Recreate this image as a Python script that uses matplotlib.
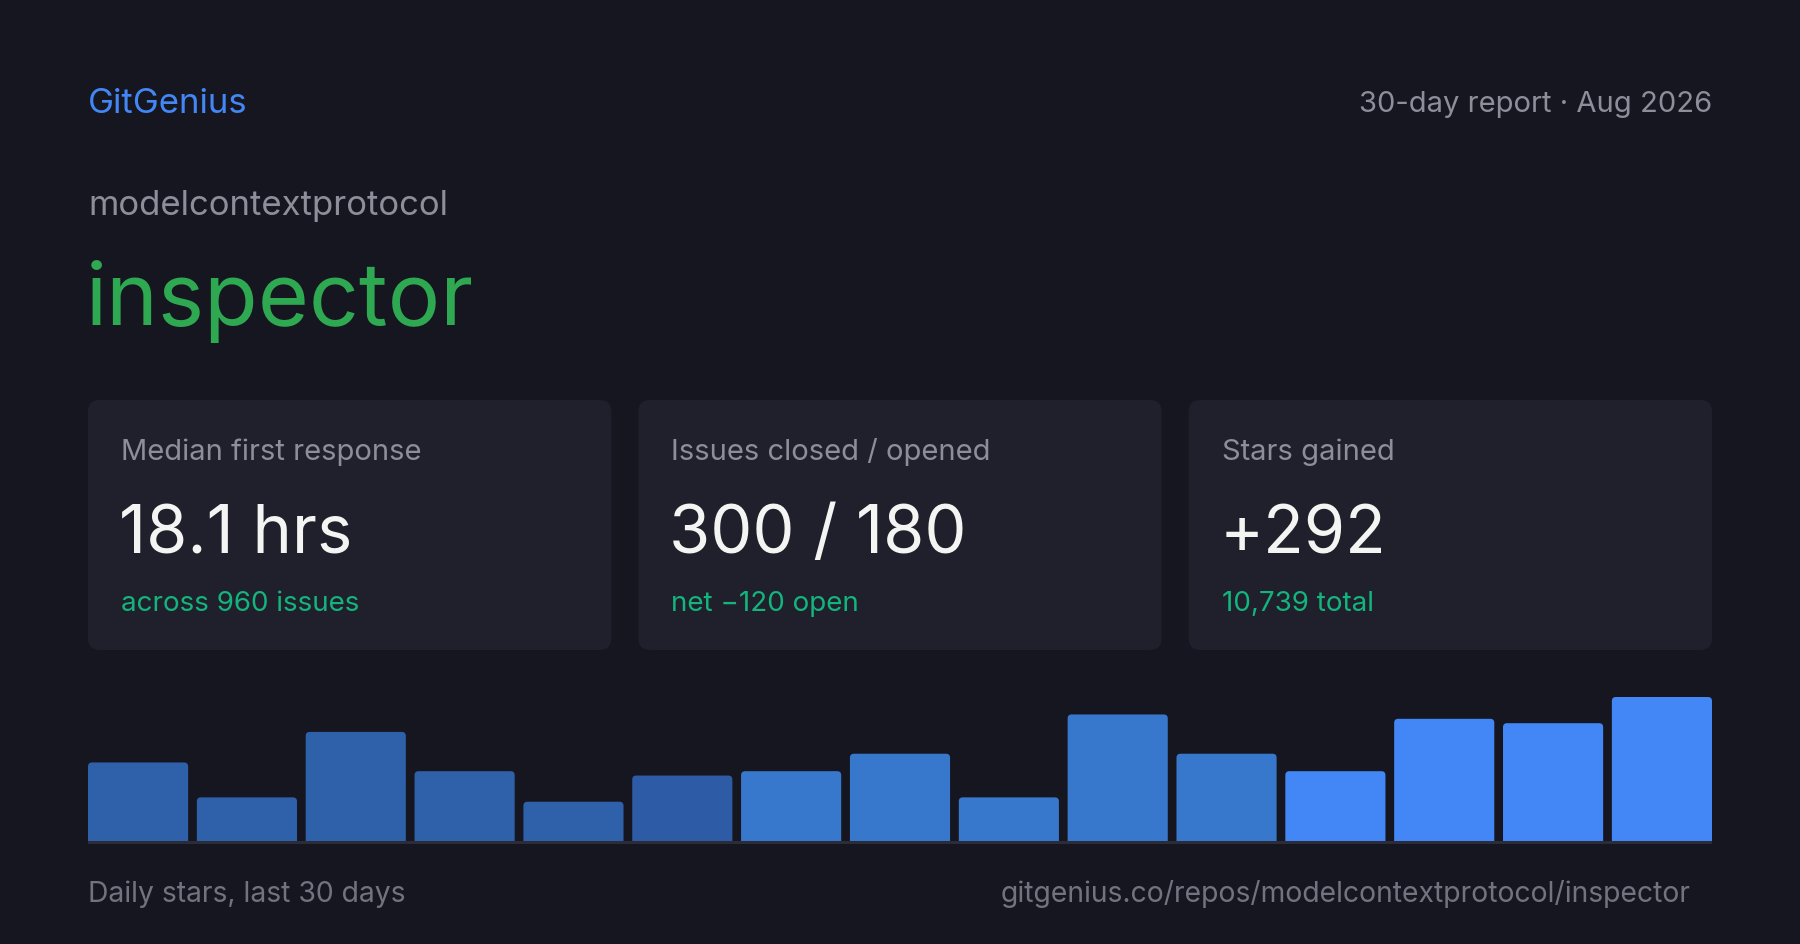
import matplotlib
matplotlib.use("Agg")
import matplotlib.pyplot as plt
from matplotlib.patches import FancyBboxPatch, Rectangle

plt.rcParams["font.family"] = ["Inter", "DejaVu Sans"]

W, H = 1800, 945
BG = "#15161f"
CARD = "#1f202c"
MUTED = "#8d8e9a"
DIM = "#72737f"
GREEN = "#2fa852"
TEAL = "#14b47c"
BLUE = "#4287f5"

BRAND = "GitGenius"
PERIOD = "30-day report \u00b7 Aug 2026"
OWNER = "modelcontextprotocol"
REPO = "inspector"

CARD_LABELS = ["Median first response", "Issues closed / opened", "Stars gained"]
CARD_VALUES = ["18.1 hrs", "300 / 180", "+292"]
CARD_NOTES = ["across 960 issues", "net \u2212120 open", "10,739 total"]

# stars per 2-day bucket
STARS = [18, 10, 25, 16, 9, 15, 16, 20, 10, 29, 20, 16, 28, 27, 33]
BAR_COLORS = ["#2f60aa"] * 5 + ["#2d5ba6"] + ["#3878cc"] * 5 + ["#4287f5"] * 4

FOOT_LEFT = "Daily stars, last 30 days"
FOOT_RIGHT = "gitgenius.co/repos/modelcontextprotocol/inspector"

fig = plt.figure(figsize=(W / 100, H / 100), dpi=100, facecolor=BG)

# overlay axes in pixel coordinates (y down)
ov = fig.add_axes([0, 0, 1, 1])
ov.set_xlim(0, W)
ov.set_ylim(H, 0)
ov.axis("off")

L, R = 88, 1712

ov.text(L, 113, BRAND, color=BLUE, fontsize=25, va="baseline", ha="left")
ov.text(R, 112, PERIOD, color=MUTED, fontsize=21, va="baseline", ha="right")
ov.text(L, 215, OWNER, color=MUTED, fontsize=25, va="baseline", ha="left")
ov.text(L - 2, 325, REPO, color=GREEN, fontsize=63, va="baseline", ha="left")

# stat cards
gap = 27
cw = (R - L - 2 * gap) / 3
top, bot = 401, 651
for i, (lab, val, note) in enumerate(zip(CARD_LABELS, CARD_VALUES, CARD_NOTES)):
    x0 = L + i * (cw + gap)
    ov.add_patch(FancyBboxPatch((x0, top), cw, bot - top,
                                boxstyle="round,pad=0,rounding_size=12",
                                fc=CARD, ec="none"))
    ov.text(x0 + 33, 460, lab, color=MUTED, fontsize=21, va="baseline")
    ov.text(x0 + 31, 553, val, color="#f4f4f2", fontsize=48, va="baseline")
    ov.text(x0 + 33, 611, note, color=TEAL, fontsize=20, va="baseline")

# bar strip
base_px, top_px = 842, 698
ymax = max(STARS) * 1.03
hpx = (base_px - top_px) * ymax / max(STARS)
ax = fig.add_axes([L / W, (H - base_px) / H, (R - L) / W, hpx / H])
ax.set_facecolor("none")
ax.axis("off")
wf = 0.92
n = len(STARS)
ax.set_xlim(-wf / 2, n - 1 + wf / 2)
ax.set_ylim(0, ymax)
bars = ax.bar(range(n), STARS, width=wf, color=BAR_COLORS)

# swap in rounded-top copies; the bottom rounding is pushed below y=0 and clipped
px_x = (R - L) / (n - 1 + wf)
px_y = hpx / ymax
rad = 4 / px_x
aspect = px_x / px_y
for b in bars:
    x, y0 = b.get_x(), b.get_y()
    w, h = b.get_width(), b.get_height()
    ext = 6 / px_y
    p = FancyBboxPatch((x, y0 - ext), w, h + ext,
                       boxstyle=f"round,pad=0,rounding_size={rad}",
                       mutation_aspect=aspect, fc=b.get_facecolor(), ec="none")
    ax.add_patch(p)
    b.remove()

ov.add_patch(Rectangle((L, base_px), R - L, 3, fc="#2b2c38", ec="none"))

ov.text(L, 902, FOOT_LEFT, color=DIM, fontsize=20.4, va="baseline")
ov.text(1691, 902, FOOT_RIGHT, color=DIM, fontsize=20.4, va="baseline", ha="right")

fig.savefig("out.png", dpi=100, facecolor=BG)
